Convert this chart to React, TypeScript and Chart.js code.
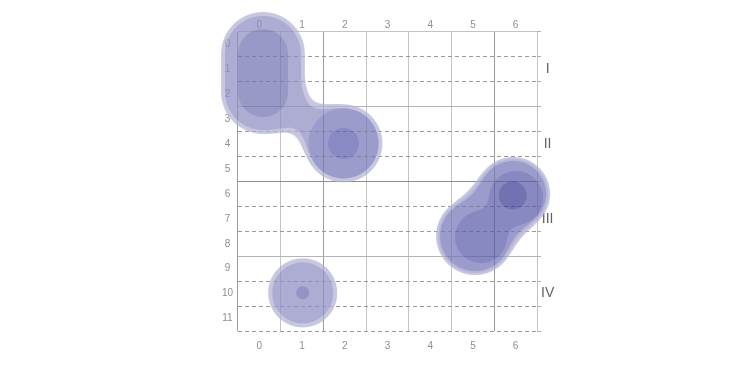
import React, { useEffect, useRef } from 'react';
import { Chart, registerables } from 'chart.js';

Chart.register(...registerables);

// axis categories
const columnLabels = ['0', '1', '2', '3', '4', '5', '6'];
const rowLabels = ['0', '1', '2', '3', '4', '5', '6', '7', '8', '9', '10', '11'];
const groupLabels = ['', 'I', '', '', 'II', '', '', 'III', '', '', 'IV', ''];

// density contour primitives: [x1, y1, x2, y2, radius]
// x = column index, y = row index, radius in column widths
const outerAB = [[0.085, 0.38, 0.085, 1.91, 0.98], [0.085, 1.91, 1.97, 3.97, 0.33], [1.97, 3.97, 1.97, 3.97, 0.91]];
const fillAB = [[0.085, 0.38, 0.085, 1.91, 0.89], [0.085, 1.91, 1.97, 3.97, 0.24], [1.97, 3.97, 1.97, 3.97, 0.82]];
const fillB = [[1.97, 3.97, 1.97, 3.97, 0.82]];
const coreA = [[0.085, 0.38, 0.085, 1.91, 0.585]];
const coreB = [[1.97, 3.97, 1.97, 3.97, 0.363]];
const outerC = [[5.94, 6.0, 5.94, 6.0, 0.866], [5.05, 7.69, 5.05, 7.69, 0.913]];
const ringC = [[5.94, 6.0, 5.94, 6.0, 0.82], [5.05, 7.69, 5.05, 7.69, 0.866]];
const fillC = [[5.94, 6.0, 5.94, 6.0, 0.773], [5.05, 7.69, 5.05, 7.69, 0.82]];
const darkC = [[6.01, 6.16, 6.01, 6.16, 0.632], [5.19, 7.73, 5.19, 7.73, 0.609]];
const coreC = [[5.93, 6.06, 5.93, 6.06, 0.328]];
const outerD = [[1.015, 9.97, 1.015, 9.97, 0.808]];
const fillD = [[1.015, 9.97, 1.015, 9.97, 0.714]];
const coreD = [[1.015, 9.97, 1.015, 9.97, 0.152]];

const layers: any[] = [
  { rgb: [199, 199, 224], groups: [[outerAB, 24], [outerC, 30], [outerD, 0]] },
  { rgb: [184, 184, 217], groups: [[ringC, 30]] },
  { rgb: [174, 174, 211], groups: [[fillAB, 24], [fillD, 0]] },
  { rgb: [156, 156, 204], groups: [[fillB, 0], [fillC, 30]] },
  { rgb: [153, 153, 200], groups: [[coreA, 0]] },
  { rgb: [137, 137, 193], groups: [[darkC, 20]] },
  { rgb: [138, 138, 196], groups: [[coreB, 0]] },
  { rgb: [114, 114, 178], groups: [[coreC, 0]] },
  { rgb: [147, 147, 198], groups: [[coreD, 0]] },
];

const ALPHA = 0.72;

function segDist(px: number, py: number, s: any) {
  const dx = s.bx - s.ax, dy = s.by - s.ay;
  const len2 = dx * dx + dy * dy;
  let t = 0;
  if (len2 > 0) {
    t = ((px - s.ax) * dx + (py - s.ay) * dy) / len2;
    t = Math.max(0, Math.min(1, t));
  }
  const qx = s.ax + t * dx - px, qy = s.ay + t * dy - py;
  return Math.sqrt(qx * qx + qy * qy) - s.r;
}

function smin(a: number, b: number, k: number) {
  if (k <= 0) return Math.min(a, b);
  const h = Math.max(k - Math.abs(a - b), 0) / k;
  return Math.min(a, b) - (h * h * k) / 4;
}

const blobPlugin = {
  id: 'densityBlobs',
  afterDatasetsDraw(chart: any) {
    const xs = chart.scales.x, ys = chart.scales.y;
    const W = chart.width, H = chart.height;
    const unit = xs.getPixelForValue(1) - xs.getPixelForValue(0);
    const compiled = layers.map((l: any) => ({
      rgb: l.rgb,
      groups: l.groups.map(([prims, k]: any) => ({
        k,
        segs: prims.map((p: number[]) => ({
          ax: xs.getPixelForValue(p[0]), ay: ys.getPixelForValue(p[1]),
          bx: xs.getPixelForValue(p[2]), by: ys.getPixelForValue(p[3]),
          r: p[4] * unit,
        })),
      })),
    }));
    let x0 = W, y0 = H, x1 = 0, y1 = 0;
    compiled.forEach((l: any) => l.groups.forEach((g: any) => g.segs.forEach((s: any) => {
      x0 = Math.min(x0, s.ax - s.r - 6, s.bx - s.r - 6);
      x1 = Math.max(x1, s.ax + s.r + 6, s.bx + s.r + 6);
      y0 = Math.min(y0, s.ay - s.r - 6, s.by - s.r - 6);
      y1 = Math.max(y1, s.ay + s.r + 6, s.by + s.r + 6);
    })));
    x0 = Math.max(0, Math.floor(x0)); y0 = Math.max(0, Math.floor(y0));
    x1 = Math.min(W, Math.ceil(x1)); y1 = Math.min(H, Math.ceil(y1));
    const off = document.createElement('canvas');
    off.width = W; off.height = H;
    const octx = off.getContext('2d') as CanvasRenderingContext2D;
    const img = octx.createImageData(W, H);
    const data = img.data;
    for (let py = y0; py < y1; py++) {
      for (let px = x0; px < x1; px++) {
        const cx = px + 0.5, cy = py + 0.5;
        let r = 255, g = 255, b = 255, a = 0;
        for (const l of compiled) {
          let d = Infinity;
          for (const grp of l.groups) {
            let gd = Infinity;
            for (const s of grp.segs) {
              const sd = segDist(cx, cy, s);
              gd = gd === Infinity ? sd : smin(gd, sd, grp.k);
            }
            d = Math.min(d, gd);
          }
          const c = Math.max(0, Math.min(1, 0.5 - d));
          if (c > 0) {
            r = r * (1 - c) + l.rgb[0] * c;
            g = g * (1 - c) + l.rgb[1] * c;
            b = b * (1 - c) + l.rgb[2] * c;
            a = a + (1 - a) * c;
          }
        }
        if (a > 0) {
          const oa = ALPHA * a;
          const i = (py * W + px) * 4;
          const f = (v: number) => Math.max(0, Math.min(255, (v - 255 * (1 - oa)) / oa));
          data[i] = f(r); data[i + 1] = f(g); data[i + 2] = f(b);
          data[i + 3] = Math.round(oa * 255);
        }
      }
    }
    octx.putImageData(img, 0, 0);
    chart.ctx.save();
    chart.ctx.drawImage(off, 0, 0);
    chart.ctx.restore();
  },
};

const tickFont = { family: "'Liberation Sans', Arial, sans-serif", size: 10 };

export default function App() {
  const ref = useRef<HTMLCanvasElement | null>(null);
  useEffect(() => {
    if (!ref.current) return;
    const chart = new Chart(ref.current, {
      type: 'scatter',
      data: { datasets: [] },
      plugins: [blobPlugin],
      options: {
        animation: false,
        responsive: false,
        devicePixelRatio: 1,
        layout: { padding: { left: 208, right: 163, top: 12, bottom: 9 } },
        plugins: { legend: { display: false }, tooltip: { enabled: false } },
        scales: {
          x: {
            type: 'category', axis: 'x', position: 'bottom', labels: columnLabels, offset: true,
            grid: {
              offset: true, drawTicks: false, lineWidth: 1,
              color: (c: any) => ([0, 2, 6].includes(c.index) ? '#9c9c9c' : '#c4c4c4'),
            },
            border: { display: false },
            ticks: { font: tickFont, color: '#8e8e8e', padding: 9, autoSkip: false, maxRotation: 0 },
            afterFit: (s: any) => { s.height = 25; },
          },
          x2: {
            type: 'category', axis: 'x', position: 'top', labels: columnLabels, offset: true,
            grid: { display: false },
            border: { display: false },
            ticks: { font: tickFont, color: '#8e8e8e', padding: -7, autoSkip: false, maxRotation: 0 },
            afterFit: (s: any) => { s.height = 20; },
          },
          y: {
            type: 'category', axis: 'y', position: 'left', labels: rowLabels, offset: true,
            grid: {
              offset: true, drawTicks: false, lineWidth: 1,
              color: (c: any) => (c.index % 3 === 0 ? 'rgba(0,0,0,0)' : '#9a9a9a'),
            },
            border: { display: false, dash: [4, 3] },
            ticks: { font: tickFont, color: '#8e8e8e', padding: 5, crossAlign: 'center', autoSkip: false },
            afterFit: (s: any) => { s.width = 30; },
          },
          y2: {
            type: 'category', axis: 'y', position: 'right', labels: groupLabels, offset: true,
            grid: {
              offset: true, drawTicks: true, tickLength: 4, lineWidth: 1,
              color: (c: any) => {
                if (c.index % 3 !== 0) return 'rgba(0,0,0,0)';
                if (c.index === 6) return '#8e8e8e';
                if (c.index === 12) return '#9c9c9c';
                if (c.index === 0) return '#c4c4c4';
                return '#b4b4b4';
              },
              tickColor: '#b0b0b0',
            },
            border: { display: false },
            ticks: {
              font: { family: "'Liberation Sans', Arial, sans-serif", size: 14 },
              color: '#606060', padding: 0, crossAlign: 'center', autoSkip: false,
            },
            afterFit: (s: any) => { s.width = 30; },
          },
        },
      } as any,
    });
    return () => chart.destroy();
  }, []);
  return (
    <div style={{ position: 'fixed', left: 0, top: 0, width: 730, height: 365, background: '#fff' }}>
      <canvas ref={ref} width={730} height={365} style={{ display: 'block' }} />
    </div>
  );
}
